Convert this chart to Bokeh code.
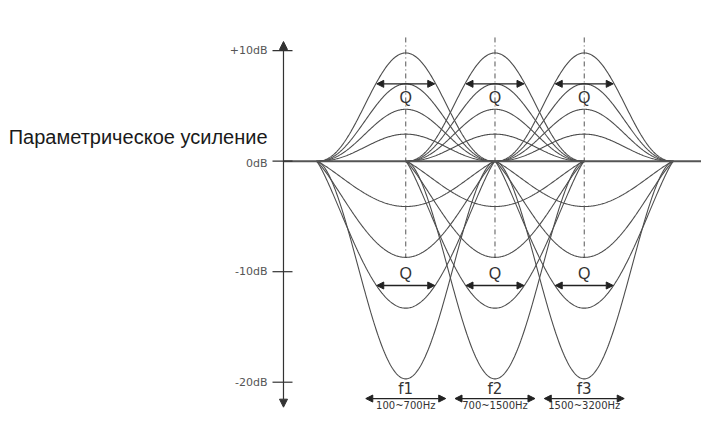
import numpy as np
from bokeh.plotting import figure
from bokeh.models import Range1d, Arrow, NormalHead
from bokeh.core.properties import value
from bokeh.embed import file_html
from bokeh.resources import INLINE

# ---- data ----
band_centers = [1, 2, 3]                      # f1, f2, f3 (band index units)
band_names = ["f1", "f2", "f3"]
band_ranges = ["100~700Hz", "700~1500Hz", "1500~3200Hz"]
boost_gains = [9.8, 7.0, 4.7, 2.45]           # dB, peak of boost curves
cut_gains = [-4.1, -8.7, -13.3, -19.7]        # dB, bottom of cut curves
cut_shapes = [0.6, 0.6, 0.6, 0.9]             # bell fullness of each cut curve
boost_shape = 1.15
tick_values = [10, 0, -10, -20]
tick_labels = ["+10dB", "0dB", "-10dB", "-20dB"]
tick_label_y = [10, -0.25, -10, -20]
y_title = "Параметрическое усиление"
q_label = "Q"

# ---- layout constants ----
HALF = 1.0          # half span of each bell (band units)
AXIS_X = -0.37
X0, X1 = -3.541, 4.314
INK = "#4d4d4d"

p = figure(width=701, height=412,
           x_range=Range1d(X0, X1), y_range=Range1d(-22.742, 14.543),
           output_backend="svg", toolbar_location=None, min_border=0,
           x_axis_location=None, y_axis_location=None)
p.grid.visible = False
p.outline_line_color = None
p.background_fill_color = "white"

# bell curves
xs, ys = [], []
for c in band_centers:
    u = np.linspace(c - HALF, c + HALF, 241)
    base = np.clip((1 + np.cos(np.pi * (u - c) / HALF)) / 2, 0, 1)
    for g in boost_gains:
        xs.append(u)
        ys.append(g * base ** boost_shape)
    for g, s in zip(cut_gains, cut_shapes):
        xs.append(u)
        ys.append(g * base ** s)
p.multi_line(xs=xs, ys=ys, line_color=INK, line_width=1.1)

# centre dash-dot lines
p.segment(x0=band_centers, y0=[11.2] * 3, x1=band_centers, y1=[-8.7] * 3,
          line_color="#555555", line_width=1, line_dash="5 3 1 3")

# zero line
p.segment(x0=[AXIS_X], y0=[0], x1=[X1], y1=[0], line_color="#555555", line_width=2)

# vertical axis with arrows
p.add_layout(Arrow(x_start=AXIS_X, y_start=-22.26, x_end=AXIS_X, y_end=10.83,
                   line_color="#333333", line_width=1.2,
                   start=NormalHead(size=8, fill_color="#333333", line_color="#333333"),
                   end=NormalHead(size=8, fill_color="#333333", line_color="#333333")))
# ticks
p.segment(x0=[AXIS_X - 0.123] * 4, y0=tick_values, x1=[AXIS_X + 0.101] * 4, y1=tick_values,
          line_color="#333333", line_width=1.2)
p.text(x=[-0.549] * 4, y=tick_label_y, text=tick_labels, text_align="right",
       text_baseline="middle", text_font=value("DejaVu Sans"), text_font_size="11px",
       text_color="#555555")

# title
p.text(x=[-0.549], y=[2.15], text=[y_title], text_align="right", text_baseline="middle",
       text_font=value("Liberation Sans"), text_font_size="20px", text_color="#1a1a1a")

# Q arrows
QH = 0.325
for c in band_centers:
    for yv in (7.0, -11.25):
        p.add_layout(Arrow(x_start=c - QH, y_start=yv, x_end=c + QH, y_end=yv,
                           line_color="#222222", line_width=1.3,
                           start=NormalHead(size=7, fill_color="#222222", line_color="#222222"),
                           end=NormalHead(size=7, fill_color="#222222", line_color="#222222")))
p.text(x=band_centers * 2, y=[5.8] * 3 + [-10.2] * 3, text=[q_label] * 6,
       text_align="center", text_baseline="middle", text_font=value("Liberation Sans"),
       text_font_size="16px", text_color="#333333")

# band labels and range arrows
BH = 0.448
for c in band_centers:
    p.add_layout(Arrow(x_start=c - BH, y_start=-21.48, x_end=c + BH, y_end=-21.48,
                       line_color="#222222", line_width=1.2,
                       start=NormalHead(size=7, fill_color="#222222", line_color="#222222"),
                       end=NormalHead(size=7, fill_color="#222222", line_color="#222222")))
p.text(x=band_centers, y=[-20.6] * 3, text=band_names, text_align="center",
       text_baseline="middle", text_font=value("DejaVu Sans"), text_font_size="15px",
       text_color="#333333")
p.text(x=band_centers, y=[-22.62] * 3, text=band_ranges, text_align="center",
       text_baseline="bottom", text_font=value("DejaVu Sans"), text_font_size="10px",
       text_color="#333333")

open("out.html", "w").write(file_html(p, INLINE))
